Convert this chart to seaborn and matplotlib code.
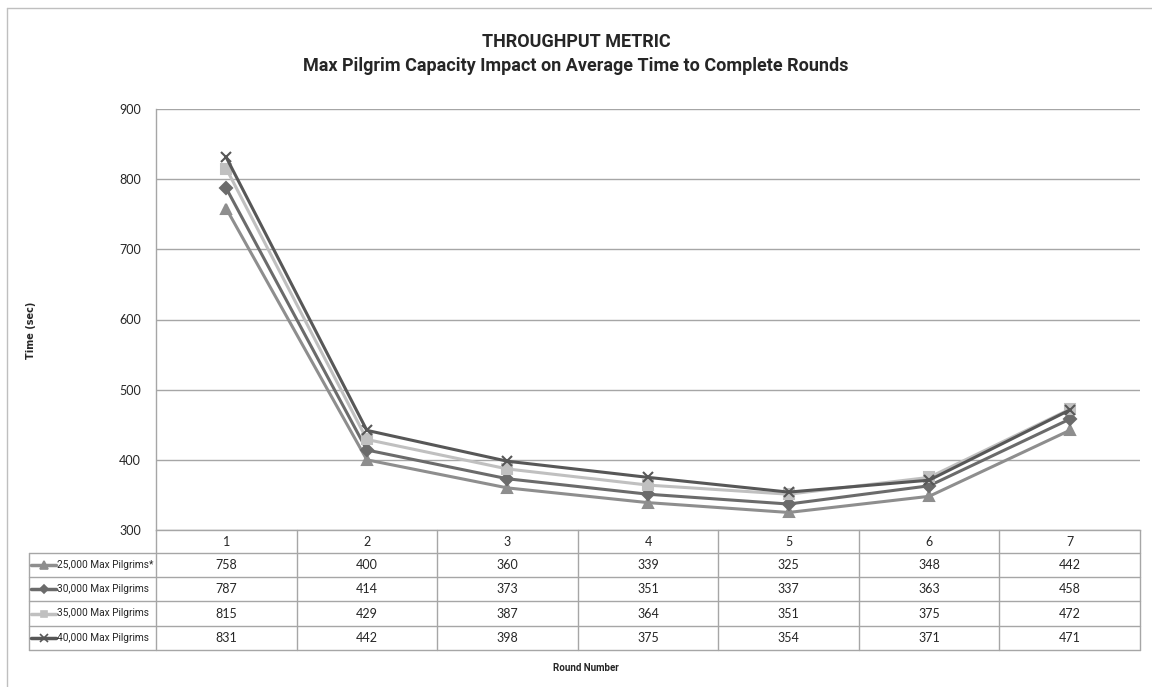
#!/usr/bin/env python3
"""
Throughput metric chart: time to complete rounds by max pilgrim capacity.
"""
import matplotlib
matplotlib.use('Agg')
import matplotlib.pyplot as plt
import seaborn as sns
import pandas as pd

rounds = [1, 2, 3, 4, 5, 6, 7]
series_names = ['25,000 Max Pilgrims*', '30,000 Max Pilgrims',
                '35,000 Max Pilgrims', '40,000 Max Pilgrims']
s25 = [758, 400, 360, 339, 325, 348, 442]
s30 = [787, 414, 373, 351, 337, 363, 458]
s35 = [815, 429, 387, 364, 351, 375, 472]
s40 = [831, 442, 398, 375, 354, 371, 471]
y_ticks = [300, 400, 500, 600, 700, 800, 900]

colors = ['#8e8e8e', '#6b6b6b', '#c0c0c0', '#575757']
markers = ['^', 'D', 's', 'x']
msizes = [7.5, 6, 7, 7.5]

sns.set_style('white')
plt.rcParams['font.family'] = ['Lato', 'DejaVu Sans']

W, H = 1152, 687
fig = plt.figure(figsize=(W / 100, H / 100), dpi=100)


def fx(px):
    return px / W


def fy(py):
    return 1 - py / H


# Build long table
all_vals = [s25, s30, s35, s40]
rows = []
for name, vals in zip(series_names, all_vals):
    for r, v in zip(rounds, vals):
        rows.append({'round': r, 'time': v, 'series': name})
df = pd.DataFrame(rows)

# pixel layout
left, right, top, bottom = 156, 1140, 109, 530
ax = fig.add_axes([fx(left), fy(bottom), fx(right - left), (bottom - top) / H])

for name, c, m, ms in zip(series_names, colors, markers, msizes):
    sub = df[df['series'] == name]
    sns.lineplot(data=sub, x='round', y='time', color=c, marker=m,
                 markersize=ms, markeredgecolor=c, markerfacecolor=c,
                 markeredgewidth=1.5, linewidth=2.2, ax=ax)

ax.set_xlim(0.5, 7.5)
ax.set_ylim(300, 900)
ax.set_yticks(y_ticks)
ax.set_yticklabels([str(t) for t in y_ticks], fontsize=9)
ax.set_xticks([])
ax.set_xlabel('')
ax.set_ylabel('')
ax.grid(True, axis='y', color='#a6a6a6', linewidth=1)
for s in ['top', 'right']:
    ax.spines[s].set_visible(False)
for s in ['left', 'bottom']:
    ax.spines[s].set_color('#a6a6a6')
    ax.spines[s].set_linewidth(1)
ax.tick_params(axis='y', length=4, color='#a6a6a6', width=1, pad=7)

# Data table drawn on an overlay axes in pixel coordinates
tab = fig.add_axes([0, 0, 1, 1])
tab.set_xlim(0, W)
tab.set_ylim(H, 0)
tab.axis('off')

col_w = (right - left) / len(rounds)
row_edges = [530, 553, 577, 601, 626, 650]
lc = '#a6a6a6'
# header row verticals
for i in range(len(rounds) + 1):
    x = left + i * col_w
    tab.plot([x, x], [row_edges[0], row_edges[-1]], color=lc, lw=1)
tab.plot([29, 29], [row_edges[1], row_edges[-1]], color=lc, lw=1)
for j, y in enumerate(row_edges[1:]):
    tab.plot([29, right], [y, y], color=lc, lw=1)

for i, r in enumerate(rounds):
    xc = left + (i + 0.5) * col_w
    tab.text(xc, (row_edges[0] + row_edges[1]) / 2, str(r), ha='center',
             va='center', fontsize=9)
    for j, vals in enumerate(all_vals):
        yc = (row_edges[j + 1] + row_edges[j + 2]) / 2
        tab.text(xc, yc, str(vals[i]), ha='center', va='center', fontsize=9)

legend_texts = []
for j, (name, c, m, ms) in enumerate(zip(series_names, colors, markers, msizes)):
    yc = (row_edges[j + 1] + row_edges[j + 2]) / 2
    tab.plot([31, 56], [yc, yc], color=c, lw=2.5)
    tab.plot([44], [yc], marker=m, color=c, markersize=ms - 2, mew=1.2)
    legend_texts.append(tab.text(57, yc, name, ha='left', va='center',
                                 fontsize=9, family=['Roboto', 'DejaVu Sans']))

# shrink legend labels so the longest fits inside its cell
fig.canvas.draw()
widest = max(t.get_window_extent().width for t in legend_texts)
if widest > 97:
    for t in legend_texts:
        t.set_fontsize(9 * 97 / widest)

# outer chart border
tab.plot([7, W], [8, 8], color='#bfbfbf', lw=1)
tab.plot([7, 7], [8, H], color='#bfbfbf', lw=1)

# titles and axis labels
title_font = ['Roboto', 'DejaVu Sans']
tab.text(576, 42, 'THROUGHPUT METRIC', ha='center', va='center',
         fontsize=13, fontweight='bold', family=title_font)
tab.text(576, 66, 'Max Pilgrim Capacity Impact on Average Time to Complete Rounds',
         ha='center', va='center', fontsize=13, fontweight='bold',
         family=title_font)
tab.text(31, 330, 'Time (sec)', ha='center', va='center', rotation=90,
         fontsize=7, fontweight='bold', family=['DejaVu Sans'])
tab.text(586, 668, 'Round Number', ha='center', va='center',
         fontsize=7, fontweight='bold', family=title_font)

fig.savefig('out.png', dpi=100)
